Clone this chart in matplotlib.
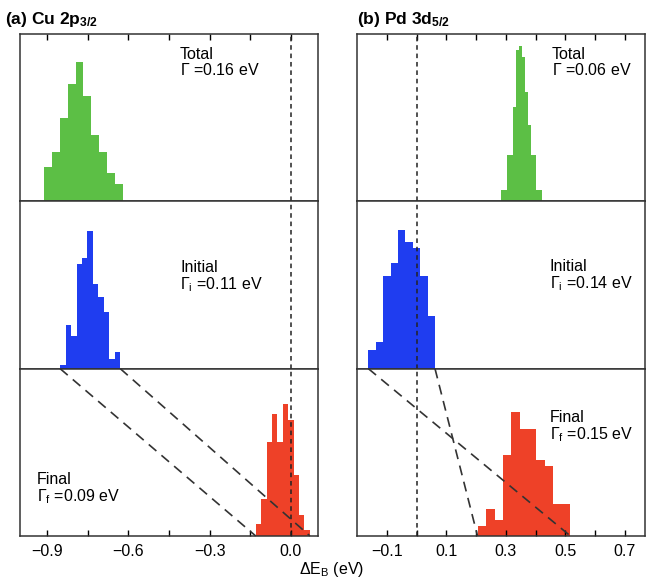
import numpy as np
from matplotlib import pyplot as plt

plt.rcParams['font.family'] = ['Liberation Sans', 'DejaVu Sans']
plt.rcParams['mathtext.fontset'] = 'custom'
plt.rcParams['mathtext.rm'] = 'Liberation Sans'
plt.rcParams['mathtext.it'] = 'Liberation Sans:italic'
plt.rcParams['mathtext.bf'] = 'Liberation Sans:bold'

#============================================================================
# Histogram data (bin edges in eV, counts in arbitrary units)
#============================================================================
# (a) Cu 2p3/2
cu_total_edges = [-0.911, -0.882, -0.853, -0.824, -0.795, -0.766, -0.737, -0.708, -0.679, -0.650, -0.621]
cu_total_counts = [34, 50, 84, 118, 140, 106, 67, 50, 28, 17]
cu_init_edges = [-0.852, -0.832, -0.812, -0.791, -0.771, -0.751, -0.731, -0.711, -0.690, -0.670, -0.650, -0.630]
cu_init_counts = [4, 44, 33, 105, 111, 138, 85, 72, 57, 10, 17]
cu_final_edges = [-0.13, -0.11, -0.09, -0.07, -0.05, -0.03, -0.01, 0.01, 0.03, 0.05, 0.07]
cu_final_counts = [12, 37, 94, 122, 94, 133, 116, 61, 21, 6]

# (b) Pd 3d5/2
pd_total_edges = [0.283, 0.293, 0.303, 0.313, 0.323, 0.333, 0.343, 0.353, 0.363, 0.373, 0.383, 0.393, 0.403, 0.413, 0.423]
pd_total_counts = [11, 11, 47, 47, 95, 152, 156, 145, 110, 77, 47, 47, 11, 11]
pd_init_edges = [-0.162, -0.137, -0.112, -0.087, -0.062, -0.038, -0.013, 0.012, 0.037, 0.062]
pd_init_counts = [19, 27, 93, 106, 139, 127, 121, 93, 53]
pd_final_edges = [0.205, 0.233, 0.262, 0.290, 0.318, 0.347, 0.375, 0.403, 0.432, 0.460, 0.488, 0.517]
pd_final_counts = [10, 27, 16, 81, 124, 107, 107, 76, 70, 32, 32]

cu_labels = ['Total\n$\\Gamma$ =0.16 eV', 'Initial\n$\\Gamma_\\mathrm{i}$ =0.11 eV', 'Final\n$\\Gamma_\\mathrm{f}$ =0.09 eV']
pd_labels = ['Total\n$\\Gamma$ =0.06 eV', 'Initial\n$\\Gamma_\\mathrm{i}$ =0.14 eV', 'Final\n$\\Gamma_\\mathrm{f}$ =0.15 eV']

cu_ticks = [-0.9, -0.6, -0.3, 0.0]
pd_ticks = [-0.1, 0.1, 0.3, 0.5, 0.7]

colors = ['#5cbf45', '#1f3df0', '#ee4128']
ymax = 168

#============================================================================
fig = plt.figure(figsize=(6.48, 5.81), dpi=100)

def make_column(x0, w, xlim, ticks, minor, hists, labels, label_pos, links):
    bot = 0.0775
    h = (0.9415 - bot) / 3
    axs = []
    for k in range(3):
        ax = fig.add_axes([x0, bot + (2 - k) * h, w, h])
        edges, counts = hists[k]
        ax.stairs(counts, edges, fill=True, color=colors[k], zorder=1)
        ax.axvline(0.0, color='#222222', linestyle=(0, (3, 2.5)), linewidth=1.1, zorder=3)
        ax.set_xlim(xlim)
        ax.set_ylim(0, ymax)
        ax.set_yticks([])
        ax.set_xticks(ticks)
        ax.set_xticks(minor, minor=True)
        ax.tick_params(axis='x', which='both', direction='in', length=4, width=1,
                       top=(k == 0), bottom=(k == 2), labelbottom=(k == 2), labelsize=11.5, pad=6)
        ax.set_xticklabels(['%.1f' % t if t >= 0 else '\u2212%.1f' % abs(t) for t in ticks])
        for s in ax.spines.values():
            s.set_linewidth(1.1)
            s.set_color('#333333')
        tx, ty = label_pos[k]
        ax.text(tx, ty, labels[k], transform=ax.transAxes, fontsize=11.5, va='top', ha='left',
                linespacing=1.0)
        axs.append(ax)
    # dashed lines linking initial extent to final extent
    ax = axs[2]
    for xa, xb in links:
        ax.plot([xa, xb], [ymax, 0], color='#333333', linestyle=(0, (6, 4)), linewidth=1.2,
                zorder=2, clip_on=False)
    return axs

make_column(0.0309, 0.4599, (-1.0, 0.1), cu_ticks, [-0.75, -0.45, -0.15],
            [(cu_total_edges, cu_total_counts), (cu_init_edges, cu_init_counts), (cu_final_edges, cu_final_counts)],
            cu_labels, [(0.537, 0.92), (0.537, 0.65), (0.056, 0.38)],
            [(cu_init_edges[0], cu_final_edges[0]), (cu_init_edges[-1], cu_final_edges[-1])])

make_column(0.551, 0.444, (-0.2, 0.767), pd_ticks, [0.0, 0.2, 0.4, 0.6],
            [(pd_total_edges, pd_total_counts), (pd_init_edges, pd_init_counts), (pd_final_edges, pd_final_counts)],
            pd_labels, [(0.676, 0.92), (0.67, 0.655), (0.67, 0.75)],
            [(pd_init_edges[0], pd_final_edges[-1]), (pd_init_edges[-1], pd_final_edges[0])])

fig.text(0.008, 0.958, '(a) Cu 2p$_\\mathbf{3/2}$', fontsize=12.5, fontweight='bold', va='baseline')
fig.text(0.5505, 0.958, '(b) Pd 3d$_\\mathbf{5/2}$', fontsize=12.5, fontweight='bold', va='baseline')
fig.text(0.512, 0.02, '$\\Delta$E$_\\mathrm{B}$ (eV)', fontsize=11.5, ha='center', va='center')

plt.savefig('out.png', dpi=100)
